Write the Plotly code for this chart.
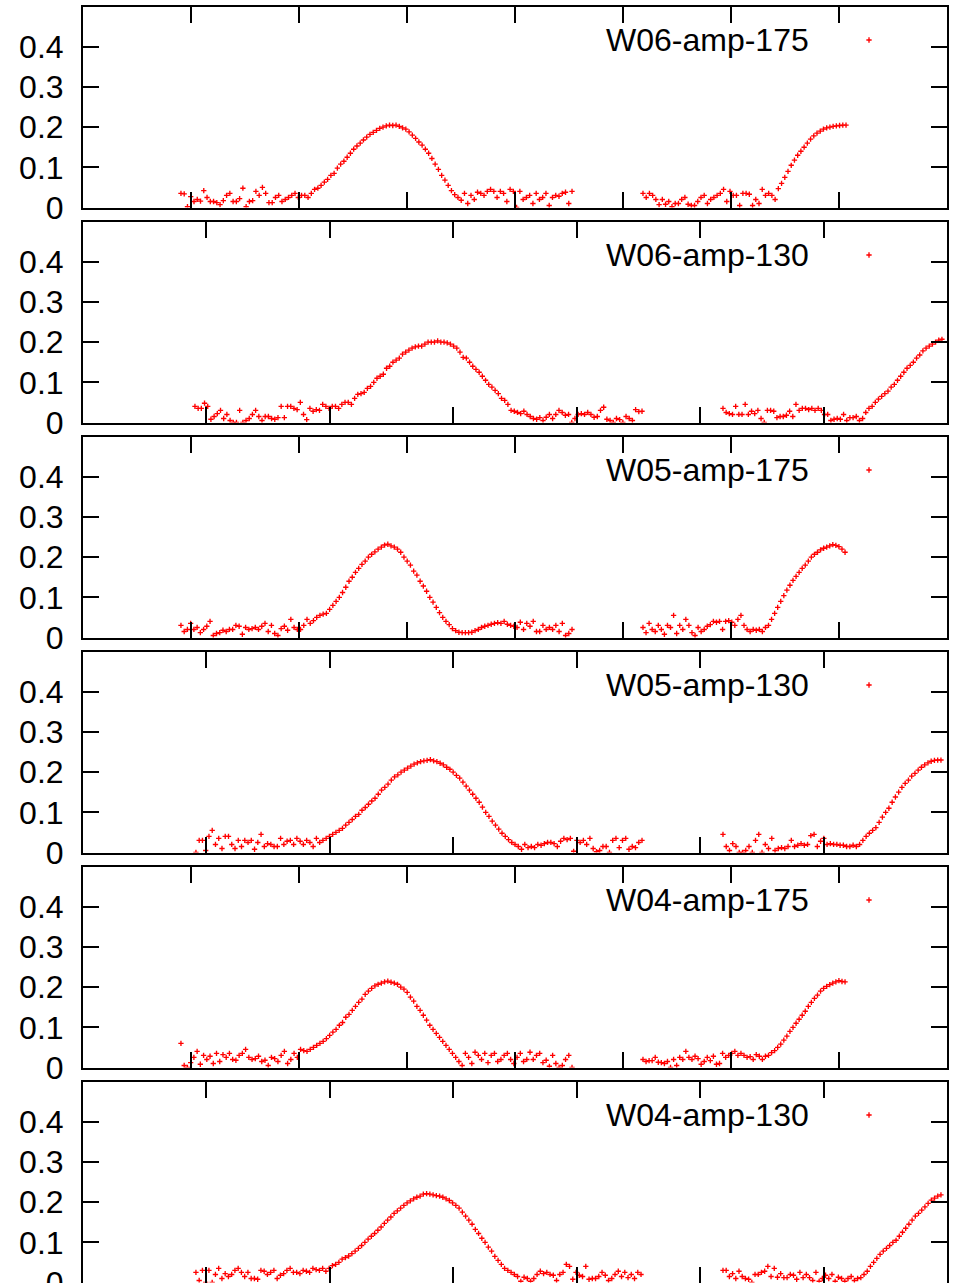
import numpy as np
import plotly.graph_objects as go

# ---------------- data (y values) ----------------
PANEL_NAMES = ["W06-amp-175", "W06-amp-130", "W05-amp-175",
               "W05-amp-130", "W04-amp-175", "W04-amp-130"]
X_MAX = [8, 7, 8, 7, 8, 7]
Y_TICKS = [0, 0.1, 0.2, 0.3, 0.4]
Y_TICK_TEXT = ["0", "0.1", "0.2", "0.3", "0.4"]

# segment x-extents (axis units) for each panel: (startA, endA, startB, endB)
SEG_X = [
    (0.907, 4.528, 5.185, 7.065),
    (0.907, 4.529, 5.185, 6.959),
    (0.907, 4.528, 5.185, 7.056),
    (0.915, 4.529, 5.185, 6.951),
    (0.907, 4.528, 5.185, 7.056),
    (0.915, 4.521, 5.185, 6.951),
]

W06_175_A = [.035,.034,.002,.027,.015,.020,.016,.042,.025,.015,.015,.012,.007,.017,.030,.035,.015,.015,.022,.048,.002,.015,.017,.040,.030,.050,.035,.012,.012,.025,.030,.015,.020,.025,.030,.035,.025,
             .030,.030,.025,.035,.045,.048,.055,.063,.070,.080,.085,.098,.108,.115,.125,.135,.145,.153,.160,.168,.175,.182,.187,.192,.197,.200,.203,.205,.204,.205,.202,.198,.195,.188,.180,.172,.163,.155,.145,.135,.122,.108,.095,.080,.068,.055,.042,.032,.025,.018,
             .035,.010,.030,.020,.038,.035,.030,.040,.045,.040,.025,.040,.035,.015,.045,.040,.000,.040,.020,.025,.030,.010,.035,.020,.025,.035,.005,.025,.030,.028,.035,.038,.010,.040]
W06_175_B = [.035,.025,.035,.030,.020,.007,.020,.008,.015,.002,.010,.010,.020,.025,.008,.005,.005,.015,.025,.030,.010,.020,.025,.030,.035,.045,.015,.040,.030,.030,.005,.035,.035,.033,.005,.020,.010,.045,.030,.035,.030,.020,
             .047,.060,.075,.090,.105,.118,.130,.140,.150,.160,.170,.178,.185,.190,.195,.198,.200,.202,.203,.204,.205,.205]

W06_130_A = [.040,.035,.035,.048,.040,.008,.015,.022,.030,.010,.020,.005,.000,.000,.030,.000,.005,.010,.020,.030,.015,.005,.015,.015,.010,.008,.012,.040,.012,.040,.040,.035,.032,.050,.020,.007,.035,.028,.032,.030,.045,
             .040,.035,.040,
             .040,.035,.045,.050,.050,.045,.060,.070,.072,.075,.085,.090,.100,.110,.115,.120,.135,.140,.150,.155,
             .160,.170,.175,.180,.185,.188,.190,.190,.195,.200,.200,.200,.203,.200,.200,.198,.195,.190,.185,.175,
             .162,.160,.150,.140,.132,.125,.115,.105,.095,.088,.080,.072,.060,.055,.045,.030,.028,.025,.022,.028,
             .020,.015,.010,.008,.012,.005,.013,.020,.010,.020,.030,.025,.018,.020,.000,.010,.020,.022,.020,.025,
             .020,.013,.015,.030,.038,.008,.005,.000,.010,.007,.000,.015,.010,.005,.032,.027,.028]
W06_130_B = [.035,.025,.022,.020,.040,.020,.020,.045,.020,.028,.022,.030,.010,.000,.030,.030,.028,.012,.015,.015,.018,.028,.015,.045,.030,.035,.035,.032,.035,.030,.035,.030,.020,.020,.005,.008,.010,.008,.020,.005,.012,.012,.015,.005,.010,
             .025,.035,.040,.050,.058,.065,.072,.078,.088,.095,.105,.115,.125,.135,.142,.150,.160,.168,.178,.185,.190,.195,.200,.205,.207]

W05_175_A = [.030,.015,.020,.035,.020,.025,.012,.020,.028,.040,.005,.010,.012,.018,.015,.020,.020,.030,.028,.008,.025,.020,.022,.025,.020,.028,.035,.015,.030,.010,.005,.022,.028,.018,.045,.025,.020,
             .020,.030,.045,.035,.042,.050,.055,.058,.060,.070,.080,.090,.100,.112,.125,.140,.150,.162,.172,.182,
             .190,.200,.207,.213,.220,.225,.230,.232,.228,.225,.220,.212,.200,.190,.180,.165,.155,.140,.128,.115,
             .100,.088,.075,.062,.050,.040,.032,.022,.017,.013,.012,.012,.012,.013,.017,.020,.025,.028,.030,.033,
             .035,.037,.035,.040,.033,.030,.028,.025,
             .038,.020,.035,.028,.040,.015,.015,.030,.020,.025,.020,.030,.015,.035,.005,.010,.020]
W05_175_B = [.025,.012,.035,.020,.015,.030,.020,.008,.030,.025,.055,.010,.030,.020,.045,.030,.012,.005,.025,.015,.020,.028,.032,.040,.038,.040,.020,.040,.042,.038,.030,.045,.055,.030,.020,.015,.020,.018,.020,.015,.025,.030,
             .045,.060,.075,.090,.104,.118,.130,.142,.152,.162,.172,.180,.190,.200,.207,.212,.218,.222,.225,.228,.231,.229,.226,.220,.212]

W05_130_A = [.000,.030,.030,.005,.040,.055,.020,.035,.010,.040,.040,.020,.010,.030,.015,.030,.025,.030,.008,.025,.045,.015,.022,.020,.015,.015,.035,.020,.028,.030,.020,.035,.028,.020,.030,.025,.015,.035,.025,.030,.035,
             .040,.045,.050,.055,.060,.068,.075,.082,.090,.095,.105,.112,.120,.128,.135,.145,.155,.162,.170,.180,
             .188,.193,.200,.205,.210,.215,.220,.223,.226,.228,.229,.231,.228,.226,.222,.218,.212,.207,.200,.192,
             .185,.175,.165,.155,.145,.135,.125,.113,.100,.090,.078,.068,.058,.048,.040,.032,.025,.020,.015,.008,
             .020,.012,.015,.012,.020,.018,.022,.025,.025,.022,.015,.028,.035,.032,.035,.003,.030,.025,.030,.020,
             .035,.010,.002,.005,.015,.015,.000,.030,.035,.012,.030,.035,.008,.015,.012,.025,.030]
W05_130_B = [.045,.015,.005,.022,.015,.000,.000,.005,.015,.000,.030,.045,.000,.020,.010,.035,.005,.010,.012,.010,.015,.030,.015,.018,.022,.018,.020,.042,.045,.015,.028,.035,.020,.022,.020,.020,.018,.018,.015,.015,.018,.015,.020,
             .030,.040,.048,.055,.062,.075,.088,.100,.110,.125,.138,.150,.162,.172,.180,.190,.197,.205,.212,.218,.223,.227,.229,.230,.230]

W04_175_A = [.060,.005,.000,.012,.025,.040,.008,.030,.020,.028,.010,.035,.015,.032,.025,.035,.020,.018,.030,.035,.045,.025,.020,.022,.028,.015,.018,.005,.025,.022,.015,.030,.040,.010,.020,.035,.025,.045,
             .042,.040,.045,.050,.055,.060,.065,.072,.080,.088,.095,.105,.112,.125,.132,.142,.152,.162,.170,.182,
             .190,.197,.203,.207,.210,.213,.215,.212,.210,.207,.200,.195,.187,.175,.165,.152,.142,.130,.118,.105,
             .095,.085,.075,.065,.055,.045,.035,.025,.015,
             .005,.035,.025,.010,.038,.030,.020,.035,.012,.030,.035,.015,.020,.030,.035,.020,.010,.025,.035,.015,.020,.038,.020,.030,.035,.012,.018,.003,.030,.010,.000,.005,.020,.030,.000]
W04_175_B = [.020,.015,.017,.017,.025,.013,.012,.010,.015,.000,.020,.005,.025,.020,.040,.025,.020,.028,.022,.008,.015,.025,.017,.028,.008,.010,.035,.025,.030,.035,.040,.030,.035,.030,.025,.027,.020,.032,.028,.020,.028,.030,
             .037,.042,.050,.058,.068,.078,.090,.100,.110,.120,.130,.140,.152,.162,.172,.180,.190,.197,.202,.206,.210,.213,.216,.214,.213]

W04_130_A = [.025,.005,.030,.000,.030,.000,.020,.035,.010,.022,.015,.020,.030,.035,.025,.015,.025,.010,.010,.008,.030,.028,.020,.025,.030,.010,.018,.022,.030,.035,.025,.025,.022,.030,.028,.025,.035,.032,.030,.035,.028,
             .035,.042,.045,.050,.058,.062,.066,.072,.078,.085,.092,.100,.108,.115,.122,.130,.138,.147,.155,.163,
             .172,.178,.185,.192,.198,.203,.208,.212,.215,.220,.221,.220,.218,.216,.215,.212,.208,.204,.198,.192,
             .185,.175,.165,.155,.145,.132,.122,.110,.100,.088,.078,.065,.055,.045,.035,.030,.025,.020,.015,
             .003,.013,.010,.003,.010,.020,.028,.022,.025,.020,.018,.005,.020,.025,.045,.040,.008,.025,.018,.015,.040,.008,.010,.010,.015,.025,.018,.005,.010,.020,.028,.015,.025,.012,.020,.010,.025,.020]
W04_130_B = [.030,.030,.015,.022,.010,.028,.015,.010,.008,.000,.020,.020,.025,.028,.040,.015,.035,.013,.022,.012,.012,.020,.018,.008,.025,.012,.020,.012,.005,.025,.003,.010,.018,.010,.020,.003,.013,.010,.003,.010,.015,.005,.010,.012,.020,
             .028,.040,.050,.060,.070,.078,.085,.092,.100,.105,.115,.125,.135,.145,.155,.165,.172,.180,.188,.197,.205,.210,.215,.218]

SERIES = [(W06_175_A, W06_175_B), (W06_130_A, W06_130_B), (W05_175_A, W05_175_B),
          (W05_130_A, W05_130_B), (W04_175_A, W04_175_B), (W04_130_A, W04_130_B)]

# ---------------- layout geometry ----------------
W, H = 972, 1283
X_L, X_R = 83, 947
FONT = "Liberation Sans, Arial, Helvetica, sans-serif"
FS = 32

fig = go.Figure()
layout = dict(width=W, height=H, margin=dict(l=0, r=0, t=0, b=0, pad=0, autoexpand=False),
              paper_bgcolor="white", plot_bgcolor="white",
              font=dict(family=FONT, size=FS, color="black"))
annotations = []

for k in range(6):
    bottom_px = 207.5 + 215 * k
    top_px = bottom_px - 201
    ydom = [max(0.0, 1 - bottom_px / H), 1 - top_px / H]
    xdom = [X_L / W, X_R / W]
    sA, eA, sB, eB = SEG_X[k]
    yA, yB = SERIES[k]
    xs = np.concatenate([np.linspace(sA, eA, len(yA)), np.linspace(sB, eB, len(yB))])
    ys = np.array(list(yA) + list(yB))
    sfx = "" if k == 0 else str(k + 1)
    leg = "legend" + sfx
    fig.add_trace(go.Scatter(
        x=xs, y=ys, mode="markers", name=" ",
        xaxis="x" + sfx, yaxis="y" + sfx, legend=leg, showlegend=True,
        cliponaxis=True, hoverinfo="skip",
        marker=dict(symbol="cross-thin", size=3.8, color="red",
                    line=dict(width=1.35, color="red"))))
    axcommon = dict(showline=True, linewidth=2, linecolor="black", mirror="ticks",
                    ticks="inside", ticklen=16, tickwidth=2, tickcolor="black",
                    showgrid=False, zeroline=False, automargin=False)
    layout["xaxis" + sfx] = dict(domain=xdom, range=[0, X_MAX[k]], tickmode="linear",
                                 tick0=0, dtick=1, showticklabels=False,
                                 anchor="y" + sfx, **axcommon)
    layout["yaxis" + sfx] = dict(domain=ydom, range=[0, 0.5], tickvals=Y_TICKS,
                                 ticktext=Y_TICK_TEXT, anchor="x" + sfx,
                                 ticklabelstandoff=11, ticklabeloverflow="allow",
                                 tickfont=dict(family=FONT, size=FS, color="black"),
                                 **axcommon)
    key_y = 1 - (top_px + 33.5) / H
    annotations.append(dict(xref="paper", yref="paper", x=811 / W, y=key_y,
                            xanchor="right", yanchor="middle", showarrow=False,
                            text=PANEL_NAMES[k],
                            font=dict(family=FONT, size=FS, color="black")))
    layout[leg] = dict(x=(869 - 20) / W, y=key_y, xanchor="left", yanchor="middle",
                       bgcolor="rgba(0,0,0,0)", borderwidth=0,
                       font=dict(size=12), itemwidth=30)

layout["annotations"] = annotations
fig.update_layout(**layout)
fig.write_html("out.html", config={"displayModeBar": False},
               post_script="document.body.style.margin='0px';document.body.style.overflow='hidden';")
